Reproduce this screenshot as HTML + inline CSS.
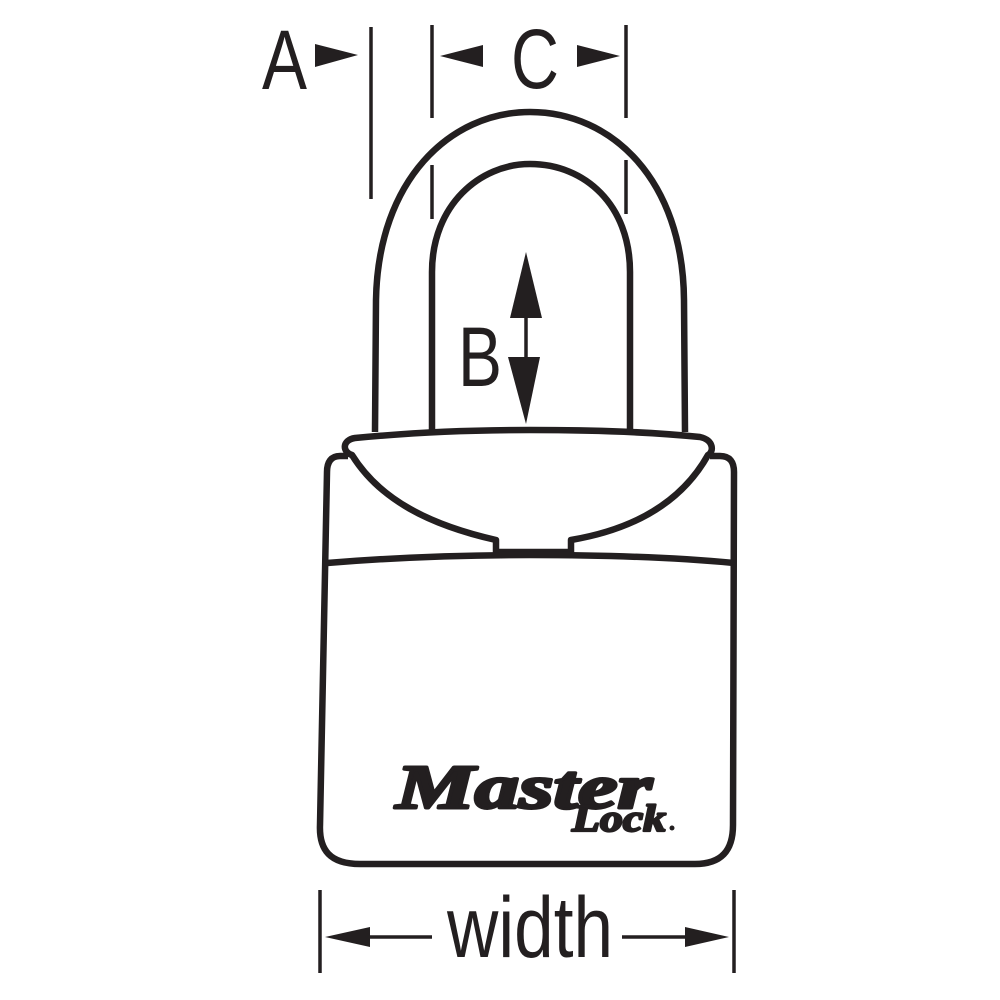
<!DOCTYPE html>
<html><head><meta charset="utf-8"><style>html,body{margin:0;padding:0;background:#fff}svg{display:block}</style></head>
<body>
<svg width="1000" height="1000" viewBox="0 0 1000 1000" xmlns="http://www.w3.org/2000/svg">
<g fill="none" stroke="#231f20" stroke-width="6.5" stroke-linejoin="round">
<path d="M375,432 L376,300 C378,180 450,112 530,112 C612,112 683,180 684,300 L685,432"/>
<path d="M432,432 L432,272 C432,205 480,164 530,164 C585,164 630,205 630,272 L630,432"/>
<path d="M352,455 C342,452 342,440 355,438 C420,432 470,430 530,430 C600,430 650,432 700,437 C714,440 714,452 708,455 C680,505 630,530 571,540 L571,552 L496,552 L496,540 C430,525 380,500 352,455 Z" fill="#fff"/>
<path d="M348,456 L340,456 C331,456 327,462 327,472 L320,825 C319,850 330,864 360,864 L695,864 C722,864 733,850 733,825 L734,472 C734,462 730,456 720,456 L710,456"/>
<path d="M327,563 C400,557 470,555 530,555 C600,555 670,557 734,563"/>
<g stroke-width="3.5">
<line x1="371" y1="27" x2="371" y2="199"/>
<line x1="432" y1="25" x2="432" y2="118"/>
<line x1="626" y1="25" x2="626" y2="118"/>
<line x1="432" y1="165" x2="432" y2="219"/>
<line x1="626" y1="160" x2="626" y2="214"/>
<line x1="526" y1="300" x2="526" y2="370"/>
<line x1="320" y1="890" x2="320" y2="973"/>
<line x1="734" y1="890" x2="734" y2="973"/>
<line x1="360" y1="937" x2="432" y2="937"/>
<line x1="622" y1="937" x2="700" y2="937"/>
</g>
</g>
<g fill="#231f20">
<polygon points="315,44 358,55 315,67"/>
<polygon points="440,56 483,45 483,67"/>
<polygon points="620,56 577,45 577,67"/>
<polygon points="526,252 542,318 510,318"/>
<polygon points="526,424 540,357 508,357"/>
<polygon points="325,937 370,927 370,947"/>
<polygon points="729,937 685,927 685,947"/>
</g>
<g font-family="'Liberation Sans', sans-serif" fill="#231f20">
<text x="262" y="89" font-size="84" textLength="45" lengthAdjust="spacingAndGlyphs">A</text>
<text x="511" y="88" font-size="84" textLength="48" lengthAdjust="spacingAndGlyphs">C</text>
<text x="458" y="386" font-size="84" textLength="44" lengthAdjust="spacingAndGlyphs">B</text>
<text x="447" y="957" font-size="86" textLength="166" lengthAdjust="spacingAndGlyphs">width</text>
</g>
<g font-family="'Liberation Serif', serif" font-weight="bold" font-style="italic" fill="#231f20" stroke="#231f20" stroke-linejoin="round">
<text x="396" y="808" font-size="62" stroke-width="3" textLength="256" lengthAdjust="spacingAndGlyphs">Master</text>
<text x="572" y="831" font-size="38" stroke-width="2.2" textLength="94" lengthAdjust="spacingAndGlyphs">Lock</text>
</g>
<circle cx="672" cy="828" r="2.5" fill="#231f20"/>
</svg>
</body></html>
